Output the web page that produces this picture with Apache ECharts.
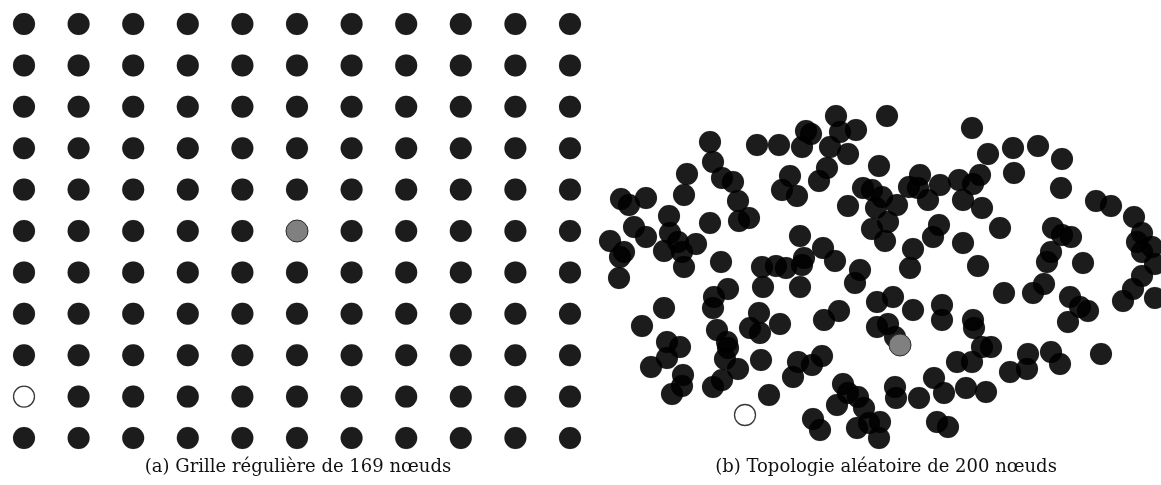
<!DOCTYPE html>
<html>
<head>
<meta charset="utf-8">
<script src="https://cdn.jsdelivr.net/npm/echarts@6/dist/echarts.min.js"></script>
<style>
html,body{margin:0;padding:0;background:#fff;}
#chart{width:1161px;height:485px;}
</style>
</head>
<body>
<div id="chart"></div>
<script>
// ---- Data ----
// (a) regular grid: visible column / row indices
const gridCols = [0,1,2,3,4,5,6,7,8,9,10];
const gridRows = [0,1,2,3,4,5,6,7,8,9,10];
const gridSource = [5,5];   // grey node (col,row)
const gridSink = [0,9];     // hollow node (col,row)

// (b) random topology: node positions (x, y)
const randX = [710,757,779,713,687,722,733,790,782,684,621,629,646,738,669,710,739,749,634,646,610,670,678,696,664,682,684,624,620,721,762,776,619,
836,887,811,840,856,802,830,848,972,879,827,819,797,863,872,882,848,876,897,888,872,885,909,920,918,928,940,959,963,973,980,939,933,963,913,800,823,804,835,786,860,910,806,
988,1013,1038,1062,1014,1061,982,1000,978,1096,1111,1134,1142,1137,1152,1142,1155,1053,1062,1071,1051,1047,1083,1142,
763,664,642,714,728,713,759,750,760,780,717,727,728,725,738,667,680,667,651,683,682,672,713,722,761,769,
802,800,855,877,893,913,942,942,839,824,877,888,895,798,812,822,793,843,848,858,837,864,895,896,919,934,944,957,966,813,820,857,869,880,879,937,948,
1004,1033,1044,1070,1080,1088,1068,1123,1133,1155,973,974,982,991,972,1028,1027,1010,1051,1060,1101,986];
const randY = [142,145,145,162,174,178,182,176,190,195,199,205,198,201,216,223,221,218,227,237,241,233,242,244,251,252,267,252,257,262,267,266,278,
116,116,134,132,130,147,147,154,128,166,168,181,196,188,190,197,206,208,205,222,229,241,187,175,188,200,185,180,200,184,175,225,237,243,249,236,248,258,261,268,270,268,131,
154,148,146,159,173,188,208,228,266,201,206,217,233,242,247,252,264,228,235,237,252,262,263,276,
287,308,326,297,289,308,313,328,333,324,330,342,348,359,369,342,347,358,367,375,386,394,387,380,360,395,
265,287,283,302,297,310,305,320,311,320,327,324,337,362,365,356,377,384,393,397,405,408,387,398,398,378,393,362,388,419,430,428,423,422,438,422,427,
293,293,284,297,307,311,322,301,289,298,320,328,347,347,362,354,369,372,352,364,354,392];
const randSource = [900,345]; // grey node
const randSink = [745,415];   // hollow node

const captionA = '(a) Grille régulière de 169 nœuds';
const captionB = '(b) Topologie aléatoire de 200 nœuds';

// ---- Build ----
const gridBlack = [];
gridRows.forEach(r => gridCols.forEach(c => {
  if ((c === gridSource[0] && r === gridSource[1]) || (c === gridSink[0] && r === gridSink[1])) return;
  gridBlack.push([c, r]);
}));
const randBlack = randX.map((x, i) => [x, randY[i]]);

const SZ = 22;
const blackStyle = {color: 'rgba(0,0,0,0.89)', borderColor: 'rgba(0,0,0,0.2)', borderWidth: 0.6, opacity: 1};
const greyStyle = {color: '#808080', borderColor: '#2a2a2a', borderWidth: 1, opacity: 1};
const hollowStyle = {color: '#ffffff', borderColor: '#3a3a3a', borderWidth: 1.3, opacity: 1};

const chart = echarts.init(document.getElementById('chart'), null, {renderer: 'canvas'});
chart.setOption({
  animation: false,
  backgroundColor: '#ffffff',
  grid: [
    {left: 24, top: 24, width: 546, height: 414},
    {left: 590, top: 95, width: 571, height: 360}
  ],
  xAxis: [
    {gridIndex: 0, type: 'value', min: 0, max: 10, show: false},
    {gridIndex: 1, type: 'value', min: 590, max: 1161, show: false}
  ],
  yAxis: [
    {gridIndex: 0, type: 'value', min: 0, max: 10, inverse: true, show: false},
    {gridIndex: 1, type: 'value', min: 95, max: 455, inverse: true, show: false}
  ],
  series: [
    {type: 'scatter', xAxisIndex: 0, yAxisIndex: 0, symbolSize: SZ, data: gridBlack, itemStyle: blackStyle, silent: true},
    {type: 'scatter', xAxisIndex: 0, yAxisIndex: 0, symbolSize: SZ, data: [gridSource], itemStyle: greyStyle, silent: true},
    {type: 'scatter', xAxisIndex: 0, yAxisIndex: 0, symbolSize: SZ - 1, data: [gridSink], itemStyle: hollowStyle, silent: true},
    {type: 'scatter', xAxisIndex: 1, yAxisIndex: 1, symbolSize: SZ, data: randBlack, itemStyle: blackStyle, silent: true},
    {type: 'scatter', xAxisIndex: 1, yAxisIndex: 1, symbolSize: SZ, data: [randSource], itemStyle: greyStyle, silent: true},
    {type: 'scatter', xAxisIndex: 1, yAxisIndex: 1, symbolSize: SZ - 1, data: [randSink], itemStyle: hollowStyle, silent: true}
  ],
  graphic: [
    {type: 'text', x: 298, y: 467, style: {text: captionA, font: '18px "DejaVu Serif"', fill: '#111', align: 'center', verticalAlign: 'middle'}},
    {type: 'text', x: 886, y: 467, style: {text: captionB, font: '18px "DejaVu Serif"', fill: '#111', align: 'center', verticalAlign: 'middle'}}
  ]
});
</script>
</body>
</html>
